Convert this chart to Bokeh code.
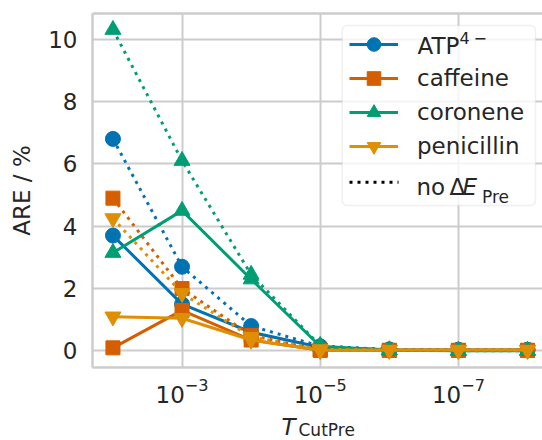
from bokeh.plotting import figure
from bokeh.layouts import column
from bokeh.models import (Range1d, FixedTicker, LogAxis, Legend, LegendItem,
                          Label, BoxAnnotation, Arrow, ColumnDataSource)
from bokeh.embed import file_html
from bokeh.resources import INLINE

# Pre-screening threshold values
t_cut = [1e-2, 1e-3, 1e-4, 1e-5, 1e-6, 1e-7, 1e-8]

# Absolute relative error (%) with the pre-screening energy correction
atp = [3.7, 1.5, 0.6, 0.12, 0.04, 0.03, 0.03]
caffeine = [0.1, 1.3, 0.35, 0.02, 0.02, 0.02, 0.02]
coronene = [3.15, 4.5, 2.3, 0.15, 0.02, 0.01, 0.01]
penicillin = [1.1, 1.05, 0.35, 0.02, 0.03, 0.03, 0.03]

# Same, without the correction
atp_no = [6.8, 2.7, 0.8, 0.15, 0.05, 0.04, 0.04]
caffeine_no = [4.9, 2.0, 0.5, 0.03, 0.02, 0.02, 0.02]
coronene_no = [10.3, 6.1, 2.45, 0.17, 0.03, 0.01, 0.01]
penicillin_no = [4.25, 1.85, 0.45, 0.05, 0.03, 0.03, 0.03]

# ATP label is typeset separately (superscript charge)
names = [" ", "caffeine", "coronene", "penicillin"]
colors = ["#0173b2", "#d55e00", "#029e73", "#de8f05"]
markers = ["circle", "square", "triangle", "inverted_triangle"]
msizes = [15, 14, 16, 16]
with_corr = [atp, caffeine, coronene, penicillin]
without_corr = [atp_no, caffeine_no, coronene_no, penicillin_no]

FONT = "DejaVu Sans"
TXT = "#262626"
GRID = "#cccccc"
DOT = "3 5"

p = figure(width=542, height=415, x_axis_type="log",
           x_range=Range1d(10 ** -1.704, 10 ** -8.217),
           y_range=Range1d(-0.53, 10.82),
           output_backend="svg", toolbar_location=None,
           min_border_left=92, min_border_right=0,
           min_border_top=13, min_border_bottom=48)
p.outline_line_color = None
p.background_fill_color = "white"
p.border_fill_color = "white"

# axes
p.xaxis.ticker = FixedTicker(ticks=[1e-3, 1e-5, 1e-7])
p.yaxis.ticker = FixedTicker(ticks=[0, 2, 4, 6, 8, 10])
for ax in (p.xaxis[0], p.yaxis[0]):
    ax.major_tick_in = 0
    ax.major_tick_out = 0
    ax.minor_tick_in = 0
    ax.minor_tick_out = 0
    ax.axis_line_color = GRID
    ax.axis_line_width = 2.5
    ax.major_label_text_font = FONT
    ax.major_label_text_font_size = "23px"
    ax.major_label_text_color = TXT
p.xaxis.major_label_standoff = 10
p.yaxis.major_label_standoff = 15
p.yaxis.axis_label = "ARE / %"
p.yaxis.axis_label_text_font = FONT
p.yaxis.axis_label_text_font_size = "23px"
p.yaxis.axis_label_text_font_style = "normal"
p.yaxis.axis_label_text_color = TXT
p.yaxis.axis_label_standoff = 10

top = LogAxis(ticker=FixedTicker(ticks=[]), axis_line_color=GRID,
              axis_line_width=2.5, major_tick_in=0, major_tick_out=0,
              minor_tick_in=0, minor_tick_out=0,
              major_label_text_font_size="0px")
p.add_layout(top, "above")

p.xgrid.grid_line_color = GRID
p.xgrid.grid_line_width = 2
p.ygrid.grid_line_color = GRID
p.ygrid.grid_line_width = 2

# data
items = []
for name, col, mk, ms, ys, ys_no in zip(names, colors, markers, msizes,
                                         with_corr, without_corr):
    src = ColumnDataSource(dict(x=t_cut, y=ys))
    src_no = ColumnDataSource(dict(x=t_cut, y=ys_no))
    l1 = p.line("x", "y", source=src, line_color=col, line_width=3)
    s1 = p.scatter("x", "y", source=src, marker=mk, size=ms,
                   fill_color=col, line_color=col)
    p.line("x", "y", source=src_no, line_color=col, line_width=3,
           line_dash=DOT)
    p.scatter("x", "y", source=src_no, marker=mk, size=ms,
              fill_color=col, line_color=col)
    items.append(LegendItem(label=name, renderers=[l1, s1]))

# legend frame
box = BoxAnnotation(left=249.7, right=443, top=342, bottom=162,
                    left_units="screen", right_units="screen",
                    top_units="screen", bottom_units="screen",
                    fill_color="white", fill_alpha=0.8,
                    line_color=GRID, line_width=1.5, border_radius=5,
                    level="annotation")
p.add_layout(box)

legend = Legend(items=items, location=(257, 204), padding=0, spacing=0,
                glyph_width=49, glyph_height=34, label_height=34,
                label_standoff=19, margin=0,
                border_line_color=None, background_fill_alpha=0,
                label_text_font=FONT, label_text_font_size="23px",
                label_text_color=TXT)
p.add_layout(legend)

# dotted sample for the uncorrected runs
p.add_layout(Arrow(x_start=257, y_start=185.3, x_end=306, y_end=185.3,
                   start_units="screen", end_units="screen",
                   start=None, end=None, line_color="black",
                   line_width=3, line_dash=DOT))


def lab(fig, text, x, y, size="23px", style="normal"):
    fig.add_layout(Label(x=x, y=y, x_units="screen", y_units="screen",
                         text=text, text_font=FONT, text_font_size=size,
                         text_font_style=style, text_color=TXT,
                         text_align="left", text_baseline="alphabetic"))


# legend texts with super/subscripts
lab(p, "ATP", 325, 321.7)
lab(p, "4", 367, 329.5, size="16px")
lab(p, "\u2212", 381, 329.5, size="16px")
lab(p, "no", 324, 180.7)
lab(p, "\u0394", 357, 180.7)
lab(p, "E", 370, 180.7, style="italic")
lab(p, "Pre", 389.5, 171, size="17px")

# strip below the axis holding the x-axis title
p2 = figure(width=542, height=25, x_range=Range1d(0, 1), y_range=Range1d(0, 1),
            x_axis_location=None, y_axis_location=None,
            output_backend="svg", toolbar_location=None, min_border=0)
p2.outline_line_color = None
p2.grid.visible = False
p2.background_fill_color = "white"
p2.border_fill_color = "white"
lab(p2, "T", 189, 13.7, style="italic")
lab(p2, "CutPre", 206, 11, size="17px")

layout = column(p, p2, spacing=0)
open("out.html", "w").write(file_html(layout, INLINE))
